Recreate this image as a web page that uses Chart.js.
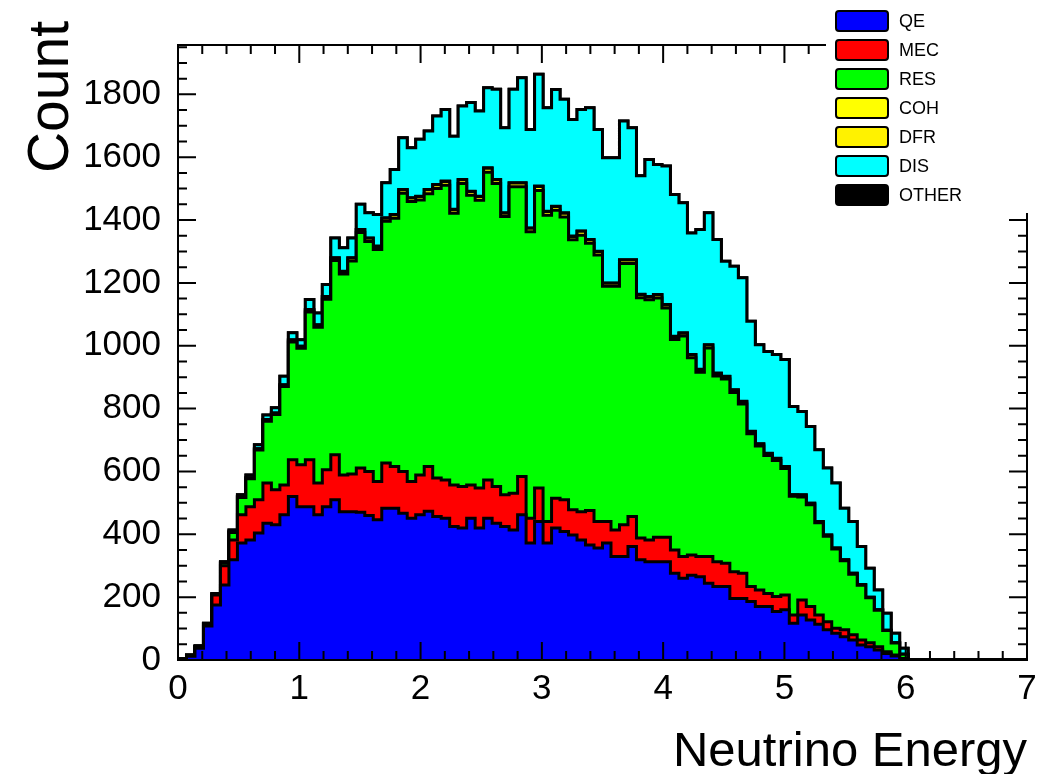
<!DOCTYPE html>
<html>
<head>
<meta charset="utf-8">
<script src="https://cdn.jsdelivr.net/npm/chart.js@4.4.0/dist/chart.umd.min.js"></script>
<style>
  html, body { margin: 0; padding: 0; background: #fff; }
  #wrap { width: 1048px; height: 774px; position: relative; }
</style>
</head>
<body>
<div id="wrap"><canvas id="energyChart"></canvas></div>
<script>
// 100 bins from 0 to 7
const binWidth = 0.07;
const yMax = 1957;

const qe = [2,12,37,108,175,239,319,372,382,404,
  435,430,462,520,488,488,462,488,510,472,
  472,470,460,446,483,483,467,451,462,473,
  457,451,425,420,451,420,451,435,425,414,
  462,372,441,372,420,409,398,382,366,356,
  372,329,329,361,319,313,313,313,276,260,
  270,265,244,234,234,196,196,186,170,170,
  154,160,117,143,127,114,96,85,74,64,
  48,42,32,21,13,3,0,0,0,0,
  0,0,0,0,0,0,0,0,0,0];

const mec = [1,2,5,7,32,61,63,90,106,106,
  128,112,95,117,133,149,101,117,143,117,
  120,141,140,122,144,133,133,117,127,143,
  122,122,132,132,106,127,122,117,101,117,
  122,79,106,69,95,101,80,90,110,85,
  69,85,101,96,69,69,78,78,74,69,
  64,64,85,79,74,85,80,48,53,42,
  48,47,26,48,43,29,26,16,22,16,
  16,13,10,5,3,2,0,0,0,0,
  0,0,0,0,0,0,0,0,0,0];

const res = [0,1,1,1,2,9,24,55,89,158,
  197,239,313,375,371,470,496,543,618,639,
  678,749,732,738,769,790,885,891,875,868,
  921,938,865,964,922,916,979,964,885,975,
  922,912,947,974,916,900,859,880,850,848,
  748,775,832,805,765,764,761,729,670,702,
  628,587,664,591,586,570,539,486,458,439,
  433,402,378,328,324,294,272,252,220,193,
  174,143,116,68,38,13,0,0,0,0,
  0,0,0,0,0,0,0,0,0,0];

const coh = [0,0,0,0,1,1,2,3,3,4,
  4,5,5,6,6,7,7,8,8,8,
  9,9,10,10,10,11,11,11,11,12,
  12,12,11,12,12,12,13,12,11,12,
  12,11,13,12,12,12,11,12,11,11,
  10,10,11,11,10,10,10,10,9,9,
  9,8,9,8,8,8,7,7,6,6,
  6,6,5,6,5,4,4,3,3,3,
  2,2,2,1,1,0,0,0,0,0,
  0,0,0,0,0,0,0,0,0,0];

const dfr = [0,0,0,0,0,0,0,0,0,0,
  1,0,1,1,0,1,1,1,1,1,
  1,1,1,1,1,1,1,1,1,1,
  1,1,1,1,1,1,1,1,1,1,
  1,1,1,1,1,1,1,1,1,1,
  1,1,1,1,1,1,1,1,1,1,
  1,1,1,1,1,1,1,1,1,1,
  1,1,0,1,0,0,0,0,0,0,
  0,0,0,0,0,0,0,0,0,0,
  0,0,0,0,0,0,0,0,0,0];

const dis = [0,1,2,1,2,3,6,6,9,13,
  15,17,27,22,21,32,37,38,63,75,
  63,80,80,101,112,143,165,159,181,186,
  218,228,233,234,282,271,255,287,271,297,
  334,313,356,329,371,361,371,387,419,387,
  398,398,441,420,377,436,414,441,451,414,
  387,445,420,425,366,393,393,350,315,324,
  330,340,281,265,244,228,213,207,164,165,
  121,92,63,54,30,19,0,0,0,0,
  0,0,0,0,0,0,0,0,0,0];

const other = [0,0,0,0,0,0,0,0,0,0,
  0,0,0,0,0,0,0,0,0,0,
  0,0,0,0,0,0,0,0,0,0,
  0,0,0,0,0,0,0,0,0,0,
  0,0,0,0,0,0,0,0,0,0,
  0,0,0,0,0,0,0,0,0,0,
  0,0,0,0,0,0,0,0,0,0,
  0,0,0,0,0,0,0,0,0,0,
  0,0,0,0,0,0,0,0,0,0,
  0,0,0,0,0,0,0,0,0,0];

const channels = [
  { label: 'QE', data: qe, color: '#0000ff' },
  { label: 'MEC', data: mec, color: '#ff0000' },
  { label: 'RES', data: res, color: '#00ff00' },
  { label: 'COH', data: coh, color: '#ffff00' },
  { label: 'DFR', data: dfr, color: '#fff200' },
  { label: 'DIS', data: dis, color: '#00ffff' },
  { label: 'OTHER', data: other, color: '#000000' }
];

// histogram bins -> points on the low edges, plus the last high edge
function toEdges(values) {
  const pts = values.map((v, i) => ({ x: i * binWidth, y: v }));
  pts.push({ x: values.length * binWidth, y: values[values.length - 1] });
  return pts;
}

const font = 'Liberation Sans';

// ROOT style frame, inward ticks, titles and legend
const rootFrame = {
  id: 'rootFrame',
  afterDatasetsDraw(chart) {
    const { ctx, chartArea: a, scales: { x, y } } = chart;
    ctx.save();
    ctx.strokeStyle = '#000';
    ctx.lineWidth = 2;
    ctx.strokeRect(a.left, a.top, a.right - a.left, a.bottom - a.top);
    ctx.beginPath();
    for (let i = 0; i <= 35; i++) {
      const px = x.getPixelForValue(i * 0.2);
      const len = i % 5 === 0 ? 18 : 9;
      ctx.moveTo(px, a.bottom); ctx.lineTo(px, a.bottom - len);
      ctx.moveTo(px, a.top); ctx.lineTo(px, a.top + len);
    }
    for (let v = 0; v <= yMax; v += 50) {
      const py = y.getPixelForValue(v);
      const len = v % 200 === 0 ? 18 : 9;
      ctx.moveTo(a.left, py); ctx.lineTo(a.left + len, py);
      ctx.moveTo(a.right, py); ctx.lineTo(a.right - len, py);
    }
    ctx.stroke();
    ctx.restore();
  },
  afterDraw(chart) {
    const { ctx } = chart;
    ctx.save();
    // axis titles
    ctx.fillStyle = '#000';
    ctx.font = '49px "' + font + '"';
    ctx.textAlign = 'right';
    ctx.textBaseline = 'alphabetic';
    ctx.fillText('Neutrino Energy', 1027, 766);
    ctx.save();
    ctx.translate(68, 0);
    ctx.rotate(-Math.PI / 2);
    ctx.font = '57px "' + font + '"';
    ctx.fillText('Count', -21, 0);
    ctx.restore();

    // legend
    ctx.fillStyle = '#fff';
    ctx.fillRect(826, 0, 222, 213);
    ctx.font = '18px "' + font + '"';
    ctx.textAlign = 'left';
    ctx.textBaseline = 'middle';
    channels.forEach((c, i) => {
      const cy = 21 + i * 29;
      ctx.beginPath();
      ctx.roundRect(836, cy - 10, 52, 20, 3);
      ctx.fillStyle = c.color;
      ctx.fill();
      ctx.lineWidth = 2;
      ctx.strokeStyle = '#000';
      ctx.stroke();
      ctx.fillStyle = '#000';
      ctx.fillText(c.label, 899, cy + 1);
    });
    ctx.restore();
  }
};

const ctx = document.getElementById('energyChart').getContext('2d');
new Chart(ctx, {
  type: 'line',
  data: {
    datasets: channels.map((c, i) => ({
      label: c.label,
      data: toEdges(c.data),
      stepped: true,
      borderColor: '#000',
      borderWidth: 3,
      backgroundColor: c.color,
      fill: i === 0 ? 'origin' : '-1',
      pointRadius: 0
    }))
  },
  options: {
    responsive: true,
    maintainAspectRatio: false,
    animation: false,
    layout: { padding: { top: 45, right: 21, left: 0, bottom: 0 } },
    plugins: { legend: { display: false }, tooltip: { enabled: false } },
    scales: {
      x: {
        type: 'linear',
        min: 0,
        max: 7,
        ticks: { stepSize: 1, color: '#000', font: { family: font, size: 35 }, padding: 8 },
        grid: { display: false, drawTicks: false },
        border: { display: false },
        afterFit(scale) { scale.height = 114; }
      },
      y: {
        stacked: true,
        min: 0,
        max: yMax,
        ticks: {
          stepSize: 200,
          includeBounds: false,
          color: '#000',
          font: { family: font, size: 35 },
          padding: 17,
          callback: (v) => String(v)
        },
        grid: { display: false, drawTicks: false },
        border: { display: false },
        afterFit(scale) { scale.width = 178; }
      }
    }
  },
  plugins: [rootFrame]
});
</script>
</body>
</html>
